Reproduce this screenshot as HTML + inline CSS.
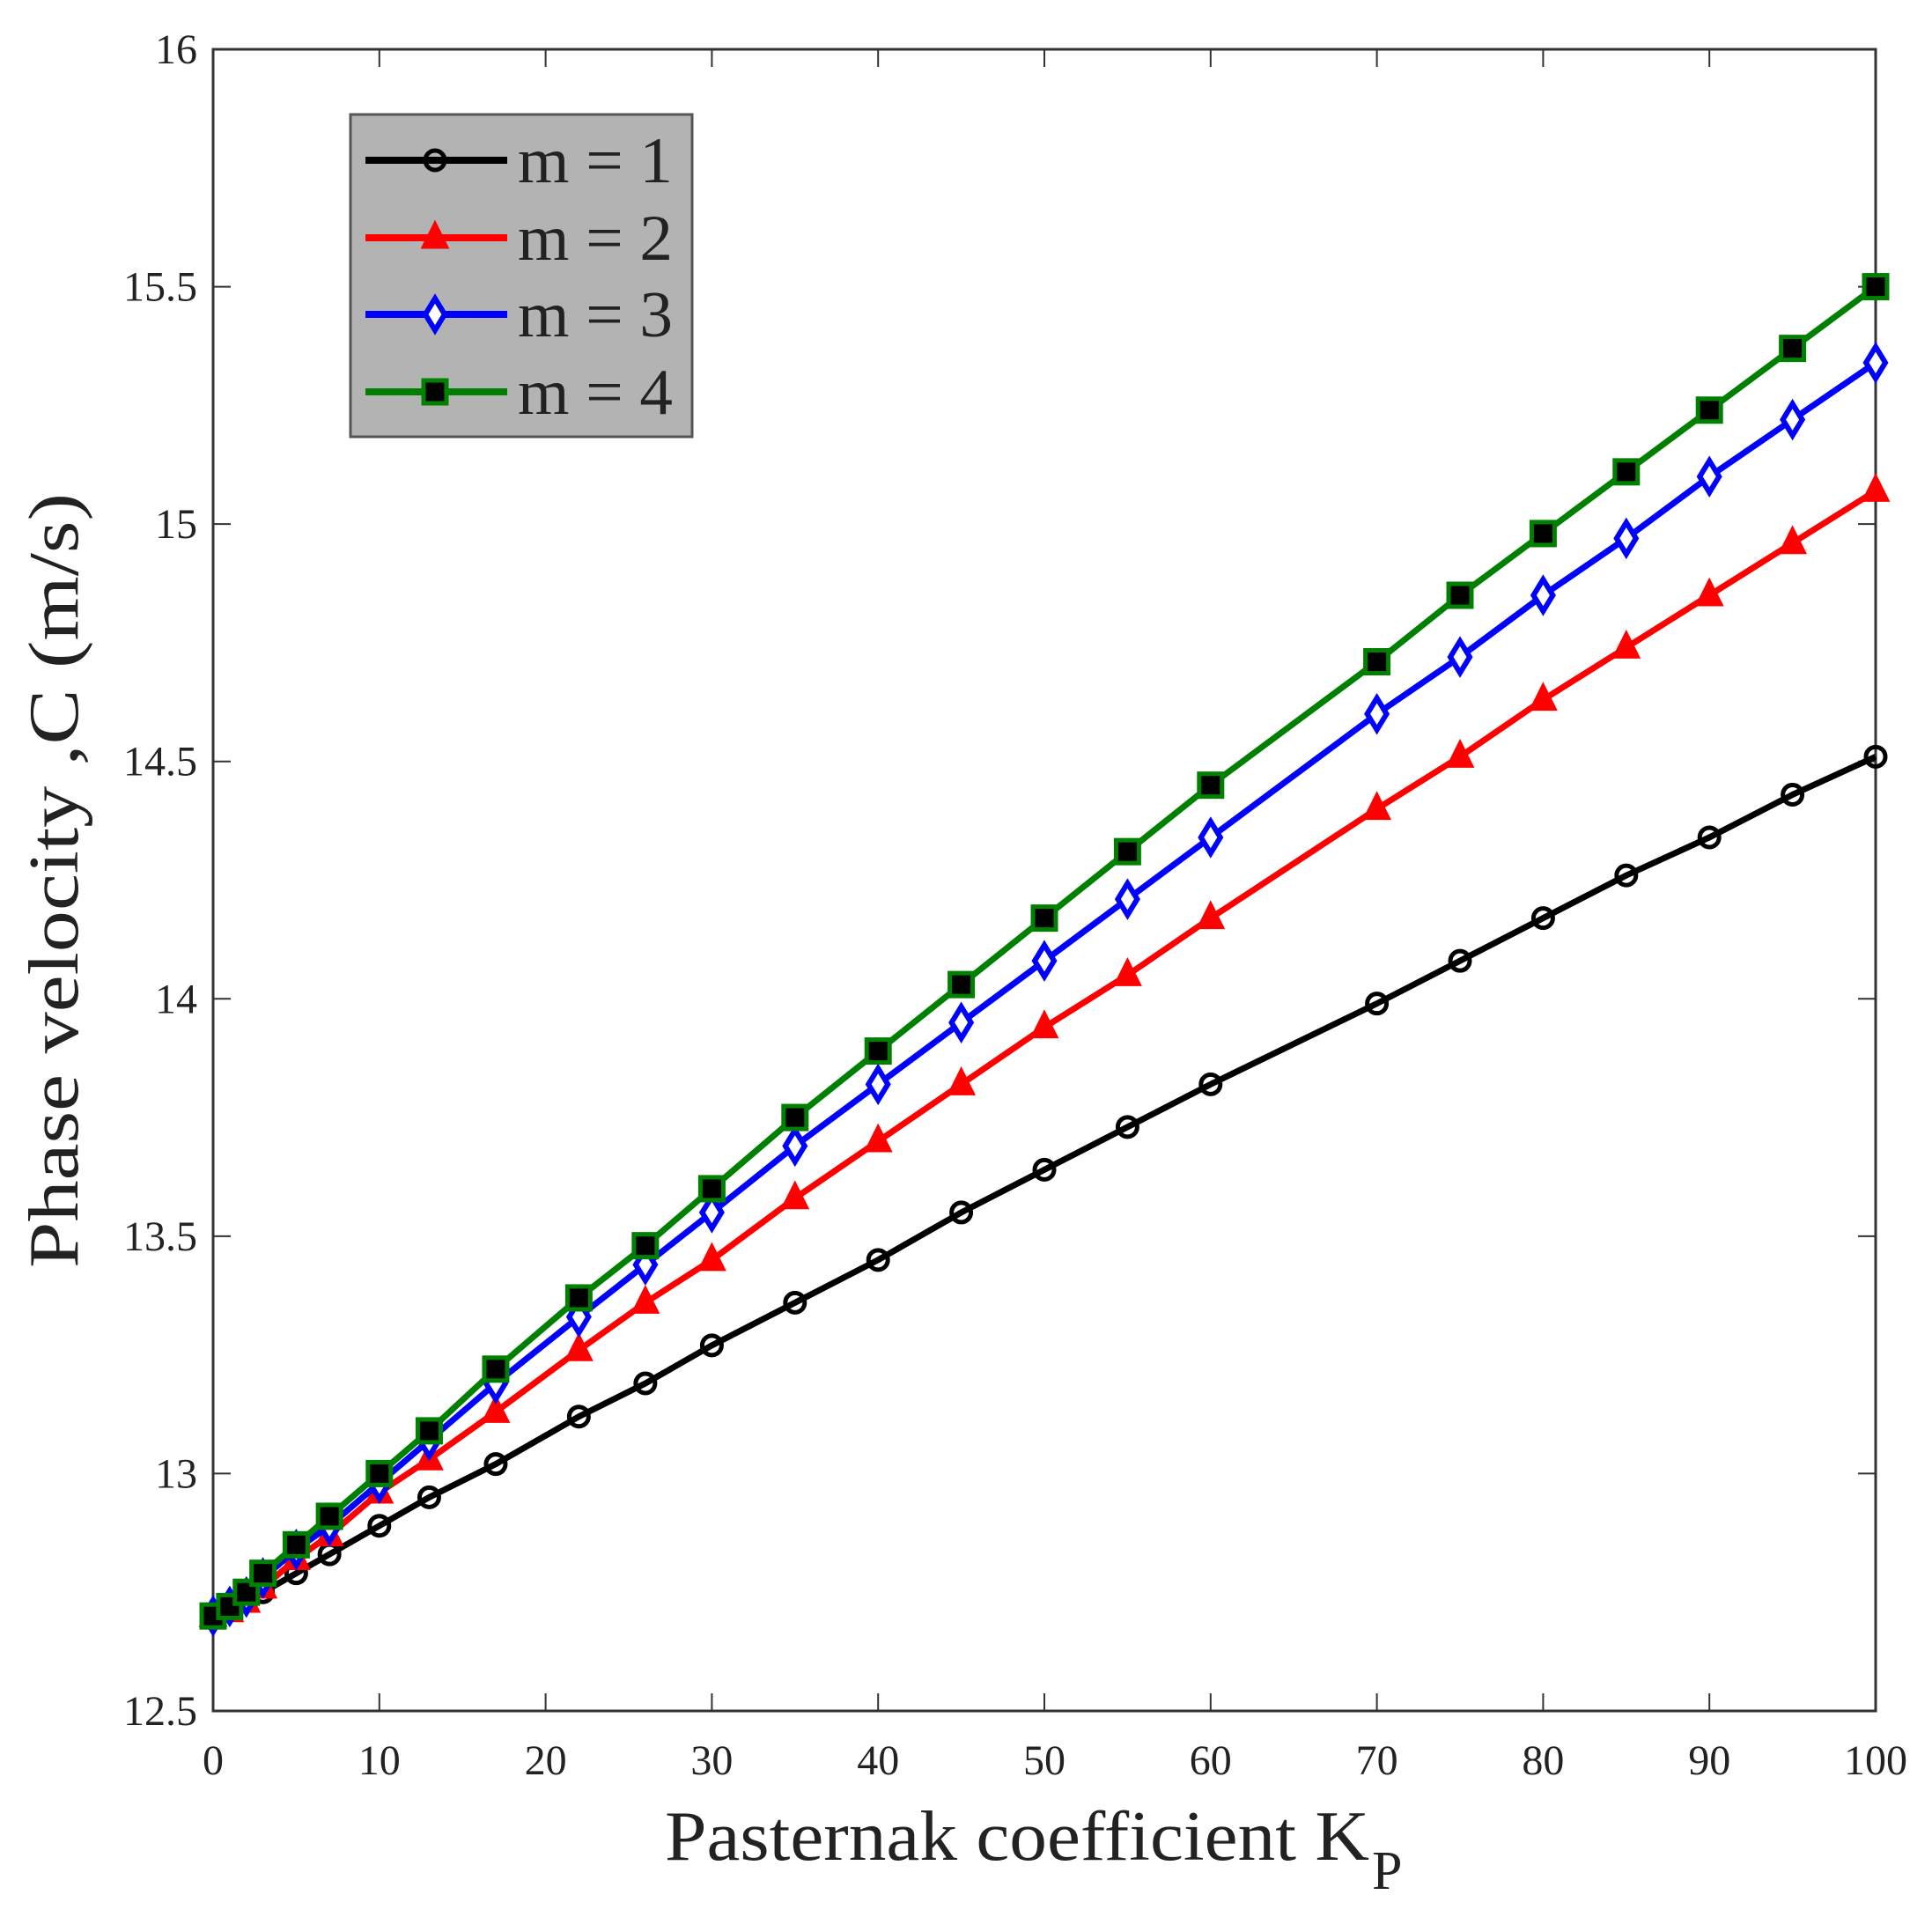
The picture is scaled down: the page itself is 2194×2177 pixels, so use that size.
<!DOCTYPE html>
<html><head><meta charset="utf-8"><style>
html,body{margin:0;padding:0;background:#fff;}
svg{display:block;}
text{font-family:"Liberation Serif",serif;fill:#222;}
</style></head><body>
<svg id="s" width="2194" height="2177" xmlns="http://www.w3.org/2000/svg">
<rect x="0" y="0" width="2194" height="2177" fill="#fff"/>
<g id="g"></g>
</svg>
<script>
const L=242,R=2130,T=56,B=1943;
const X=v=>L+(R-L)*v/100, Y=v=>B-(B-T)*(v-12.5)/3.5;
const xs=[0,1,2,3,5,7,10,13,17,22,26,30,35,40,45,50,55,60,70,75,80,85,90,95,100];
const d=[
[12.7,12.72,12.74,12.75,12.79,12.83,12.89,12.95,13.02,13.12,13.19,13.27,13.36,13.45,13.55,13.64,13.73,13.82,13.99,14.08,14.17,14.26,14.34,14.43,14.51],
[12.7,12.71,12.73,12.76,12.82,12.87,12.96,13.03,13.13,13.26,13.36,13.45,13.58,13.70,13.82,13.94,14.05,14.17,14.40,14.51,14.63,14.74,14.85,14.96,15.07],
[12.7,12.72,12.74,12.78,12.84,12.89,12.98,13.07,13.19,13.33,13.44,13.55,13.69,13.82,13.95,14.08,14.21,14.34,14.60,14.72,14.85,14.97,15.10,15.22,15.34],
[12.7,12.72,12.75,12.79,12.85,12.91,13.00,13.09,13.22,13.37,13.48,13.60,13.75,13.89,14.03,14.17,14.31,14.45,14.71,14.85,14.98,15.11,15.24,15.37,15.50]];
const cols=['#000','#f00','#00f','#008000'];
let h='';
h+=`<rect x="${L}" y="${T}" width="${R-L}" height="${B-T}" fill="none" stroke="#333" stroke-width="3"/>`;
for(let i=0;i<=10;i++){const x=X(i*10);
 if(i>0&&i<10){h+=`<line x1="${x}" y1="${B}" x2="${x}" y2="${B-20}" stroke="#333" stroke-width="2"/><line x1="${x}" y1="${T}" x2="${x}" y2="${T+20}" stroke="#333" stroke-width="2"/>`;}
 h+=`<text x="${x}" y="${B+72}" font-size="48" text-anchor="middle">${i*10}</text>`;}
for(let i=0;i<=7;i++){const v=12.5+i*0.5,y=Y(v);
 if(i>0&&i<7){h+=`<line x1="${L}" y1="${y}" x2="${L+20}" y2="${y}" stroke="#333" stroke-width="2"/><line x1="${R}" y1="${y}" x2="${R-20}" y2="${y}" stroke="#333" stroke-width="2"/>`;}
 h+=`<text x="${L-18}" y="${y+16}" font-size="48" text-anchor="end">${v%1?v:v.toFixed(0)}</text>`;}
h+=`<text x="755" y="2112" font-size="80" textLength="800" lengthAdjust="spacingAndGlyphs">Pasternak coefficient K</text><text x="1558" y="2145" font-size="62">P</text>`;
h+=`<text transform="translate(88,1000) rotate(-90)" font-size="80" text-anchor="middle" textLength="880" lengthAdjust="spacingAndGlyphs">Phase velocity ,C (m/s)</text>`;
function mk(k,x,y){
 if(k==0)return `<circle cx="${x}" cy="${y}" r="11" fill="none" stroke="#000" stroke-width="5"/>`;
 if(k==1)return `<polygon points="${x},${y-17} ${x+14},${y+11} ${x-14},${y+11}" fill="#f00" stroke="#f00" stroke-width="3"/>`;
 if(k==2)return `<polygon points="${x},${y-18} ${x+11},${y} ${x},${y+18} ${x-11},${y}" fill="#fff" stroke="#00f" stroke-width="6"/>`;
 return `<rect x="${x-13}" y="${y-13}" width="26" height="26" fill="#000" stroke="#008000" stroke-width="5"/>`;}
for(let k=0;k<4;k++){
 h+=`<polyline fill="none" stroke="${cols[k]}" stroke-width="7" points="${xs.map((x,i)=>X(x)+','+Y(d[k][i])).join(' ')}"/>`;
 xs.forEach((x,i)=>h+=mk(k,X(x),Y(d[k][i])));}
h+=`<rect x="398" y="130" width="388" height="366" fill="#b3b3b3" stroke="#555" stroke-width="3"/>`;
[182,270,357,445].forEach((y,k)=>{
 h+=`<line x1="415" y1="${y}" x2="576" y2="${y}" stroke="${cols[k]}" stroke-width="8"/>`+mk(k,494,y);
 h+=`<text x="588" y="${y+25}" font-size="74" fill="#000" textLength="176" lengthAdjust="spacingAndGlyphs">m = ${k+1}</text>`;});
document.getElementById('g').innerHTML=h;
</script>
</body></html>
